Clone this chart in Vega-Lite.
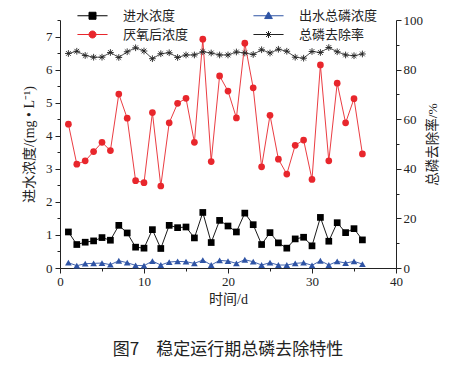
{
  "$schema": "https://vega.github.io/schema/vega-lite/v6.json",
  "width": 336,
  "height": 248,
  "autosize": {"type": "none"},
  "padding": {"left": 60, "top": 20, "right": 58, "bottom": 103},
  "background": "white",
  "title": {"text": "图7　稳定运行期总磷去除特性", "orient": "bottom", "offset": 36, "fontSize": 17, "font": "Noto Sans CJK SC", "fontWeight": "normal", "color": "#222222", "anchor": "middle"},
  "config": {
    "view": {"stroke": null},
    "axis": {"domainColor": "#222222", "tickColor": "#222222", "labelColor": "#222222", "titleColor": "#222222", "labelFont": "Liberation Serif, serif", "labelFontSize": 13, "titleFont": "Liberation Serif, Noto Sans CJK SC", "titleFontWeight": "normal", "grid": false}
  },
  "data": {"values": [
    {"t":1,"s":"进水浓度","v":1.09},{"t":2,"s":"进水浓度","v":0.71},{"t":3,"s":"进水浓度","v":0.78},{"t":4,"s":"进水浓度","v":0.82},{"t":5,"s":"进水浓度","v":0.92},{"t":6,"s":"进水浓度","v":0.84},{"t":7,"s":"进水浓度","v":1.29},{"t":8,"s":"进水浓度","v":1.06},{"t":9,"s":"进水浓度","v":0.63},{"t":10,"s":"进水浓度","v":0.60},{"t":11,"s":"进水浓度","v":1.16},{"t":12,"s":"进水浓度","v":0.59},{"t":13,"s":"进水浓度","v":1.29},{"t":14,"s":"进水浓度","v":1.22},{"t":15,"s":"进水浓度","v":1.24},{"t":16,"s":"进水浓度","v":0.91},{"t":17,"s":"进水浓度","v":1.68},{"t":18,"s":"进水浓度","v":0.77},{"t":19,"s":"进水浓度","v":1.44},{"t":20,"s":"进水浓度","v":1.27},{"t":21,"s":"进水浓度","v":1.09},{"t":22,"s":"进水浓度","v":1.66},{"t":23,"s":"进水浓度","v":1.31},{"t":24,"s":"进水浓度","v":0.71},{"t":25,"s":"进水浓度","v":1.07},{"t":26,"s":"进水浓度","v":0.76},{"t":27,"s":"进水浓度","v":0.60},{"t":28,"s":"进水浓度","v":0.88},{"t":29,"s":"进水浓度","v":0.93},{"t":30,"s":"进水浓度","v":0.67},{"t":31,"s":"进水浓度","v":1.53},{"t":32,"s":"进水浓度","v":0.81},{"t":33,"s":"进水浓度","v":1.37},{"t":34,"s":"进水浓度","v":1.07},{"t":35,"s":"进水浓度","v":1.19},{"t":36,"s":"进水浓度","v":0.85},
    {"t":1,"s":"厌氧后浓度","v":4.35},{"t":2,"s":"厌氧后浓度","v":3.14},{"t":3,"s":"厌氧后浓度","v":3.24},{"t":4,"s":"厌氧后浓度","v":3.52},{"t":5,"s":"厌氧后浓度","v":3.80},{"t":6,"s":"厌氧后浓度","v":3.55},{"t":7,"s":"厌氧后浓度","v":5.26},{"t":8,"s":"厌氧后浓度","v":4.53},{"t":9,"s":"厌氧后浓度","v":2.64},{"t":10,"s":"厌氧后浓度","v":2.58},{"t":11,"s":"厌氧后浓度","v":4.70},{"t":12,"s":"厌氧后浓度","v":2.48},{"t":13,"s":"厌氧后浓度","v":4.39},{"t":14,"s":"厌氧后浓度","v":4.98},{"t":15,"s":"厌氧后浓度","v":5.13},{"t":16,"s":"厌氧后浓度","v":3.80},{"t":17,"s":"厌氧后浓度","v":6.92},{"t":18,"s":"厌氧后浓度","v":3.22},{"t":19,"s":"厌氧后浓度","v":5.81},{"t":20,"s":"厌氧后浓度","v":5.35},{"t":21,"s":"厌氧后浓度","v":4.54},{"t":22,"s":"厌氧后浓度","v":6.80},{"t":23,"s":"厌氧后浓度","v":5.45},{"t":24,"s":"厌氧后浓度","v":3.06},{"t":25,"s":"厌氧后浓度","v":4.62},{"t":26,"s":"厌氧后浓度","v":3.29},{"t":27,"s":"厌氧后浓度","v":2.84},{"t":28,"s":"厌氧后浓度","v":3.71},{"t":29,"s":"厌氧后浓度","v":3.87},{"t":30,"s":"厌氧后浓度","v":2.68},{"t":31,"s":"厌氧后浓度","v":6.14},{"t":32,"s":"厌氧后浓度","v":3.24},{"t":33,"s":"厌氧后浓度","v":5.59},{"t":34,"s":"厌氧后浓度","v":4.39},{"t":35,"s":"厌氧后浓度","v":5.12},{"t":36,"s":"厌氧后浓度","v":3.45},
    {"t":1,"s":"出水总磷浓度","v":0.16},{"t":2,"s":"出水总磷浓度","v":0.07},{"t":3,"s":"出水总磷浓度","v":0.13},{"t":4,"s":"出水总磷浓度","v":0.14},{"t":5,"s":"出水总磷浓度","v":0.15},{"t":6,"s":"出水总磷浓度","v":0.10},{"t":7,"s":"出水总磷浓度","v":0.22},{"t":8,"s":"出水总磷浓度","v":0.16},{"t":9,"s":"出水总磷浓度","v":0.08},{"t":10,"s":"出水总磷浓度","v":0.07},{"t":11,"s":"出水总磷浓度","v":0.21},{"t":12,"s":"出水总磷浓度","v":0.09},{"t":13,"s":"出水总磷浓度","v":0.18},{"t":14,"s":"出水总磷浓度","v":0.20},{"t":15,"s":"出水总磷浓度","v":0.19},{"t":16,"s":"出水总磷浓度","v":0.14},{"t":17,"s":"出水总磷浓度","v":0.24},{"t":18,"s":"出水总磷浓度","v":0.09},{"t":19,"s":"出水总磷浓度","v":0.23},{"t":20,"s":"出水总磷浓度","v":0.21},{"t":21,"s":"出水总磷浓度","v":0.14},{"t":22,"s":"出水总磷浓度","v":0.25},{"t":23,"s":"出水总磷浓度","v":0.19},{"t":24,"s":"出水总磷浓度","v":0.09},{"t":25,"s":"出水总磷浓度","v":0.16},{"t":26,"s":"出水总磷浓度","v":0.09},{"t":27,"s":"出水总磷浓度","v":0.09},{"t":28,"s":"出水总磷浓度","v":0.14},{"t":29,"s":"出水总磷浓度","v":0.16},{"t":30,"s":"出水总磷浓度","v":0.08},{"t":31,"s":"出水总磷浓度","v":0.22},{"t":32,"s":"出水总磷浓度","v":0.09},{"t":33,"s":"出水总磷浓度","v":0.20},{"t":34,"s":"出水总磷浓度","v":0.15},{"t":35,"s":"出水总磷浓度","v":0.20},{"t":36,"s":"出水总磷浓度","v":0.12},
    {"t":1,"s":"总磷去除率","v":86.5},{"t":2,"s":"总磷去除率","v":87.4},{"t":3,"s":"总磷去除率","v":85.7},{"t":4,"s":"总磷去除率","v":85.0},{"t":5,"s":"总磷去除率","v":85.0},{"t":6,"s":"总磷去除率","v":86.9},{"t":7,"s":"总磷去除率","v":84.9},{"t":8,"s":"总磷去除率","v":87.2},{"t":9,"s":"总磷去除率","v":88.8},{"t":10,"s":"总磷去除率","v":87.5},{"t":11,"s":"总磷去除率","v":84.4},{"t":12,"s":"总磷去除率","v":86.4},{"t":13,"s":"总磷去除率","v":86.8},{"t":14,"s":"总磷去除率","v":84.9},{"t":15,"s":"总磷去除率","v":85.9},{"t":16,"s":"总磷去除率","v":85.9},{"t":17,"s":"总磷去除率","v":87.2},{"t":18,"s":"总磷去除率","v":86.7},{"t":19,"s":"总磷去除率","v":85.9},{"t":20,"s":"总磷去除率","v":85.9},{"t":21,"s":"总磷去除率","v":87.1},{"t":22,"s":"总磷去除率","v":86.7},{"t":23,"s":"总磷去除率","v":86.1},{"t":24,"s":"总磷去除率","v":88.0},{"t":25,"s":"总磷去除率","v":86.7},{"t":26,"s":"总磷去除率","v":88.2},{"t":27,"s":"总磷去除率","v":87.4},{"t":28,"s":"总磷去除率","v":85.0},{"t":29,"s":"总磷去除率","v":84.6},{"t":30,"s":"总磷去除率","v":87.3},{"t":31,"s":"总磷去除率","v":86.9},{"t":32,"s":"总磷去除率","v":88.9},{"t":33,"s":"总磷去除率","v":87.2},{"t":34,"s":"总磷去除率","v":85.9},{"t":35,"s":"总磷去除率","v":85.6},{"t":36,"s":"总磷去除率","v":86.3}
  ]},
  "encoding": {
    "x": {"field": "t", "type": "quantitative", "scale": {"domain": [0, 40], "nice": false, "zero": false},
      "axis": {"title": "时间/d", "titleFontSize": 14, "titlePadding": 4, "values": [0,5,10,15,20,25,30,35,40], "labelExpr": "datum.value % 10 === 0 ? format(datum.value, 'd') : ''", "tickSize": {"condition": {"test": "datum.value % 10 === 0", "value": 5}, "value": 3}, "labelPadding": 2, "labelFlush": false}},
    "color": {"field": "s", "type": "nominal", "scale": {"domain": ["进水浓度","出水总磷浓度","厌氧后浓度","总磷去除率"], "range": ["#000000","#2f54a5","#e8262c","#222222"]},
      "legend": {"title": null, "orient": "none", "legendX": 26, "legendY": -11, "direction": "horizontal", "columns": 2, "columnPadding": 62, "rowPadding": 5, "symbolSize": 49, "symbolStrokeWidth": 1, "labelFontSize": 13, "labelFont": "Liberation Serif, Noto Sans CJK SC", "labelColor": "#222222", "labelOffset": 24, "symbolOffset": 0, "padding": 0,
        "encode": {"symbols": {"update": {
          "shape": {"signal": "datum.value === '进水浓度' ? 'M-4.3,0L4.3,0M-1,-1L1,-1L1,1L-1,1Z' : datum.value === '厌氧后浓度' ? 'M-4.3,0L4.3,0M1,0A1,1,0,1,1,-1,0A1,1,0,1,1,1,0Z' : datum.value === '出水总磷浓度' ? 'M-4.3,0L4.3,0M0,-1.1L1.1,0.8L-1.1,0.8Z' : 'M-4.3,0L4.3,0M-1,0L1,0M0,-1L0,1M-0.7,-0.7L0.7,0.7M-0.7,0.7L0.7,-0.7'"},
          "strokeWidth": {"value": 1}
        }}}}}
  },
  "layer": [
    {
      "transform": [{"filter": "datum.s !== '总磷去除率'"}],
      "encoding": {
        "y": {"field": "v", "type": "quantitative", "scale": {"domain": [0, 7.5], "nice": false},
          "axis": {"orient": "left", "title": "进水浓度/(mg • L⁻¹)", "titleFontSize": 14, "titlePadding": 9, "values": [0,0.5,1,1.5,2,2.5,3,3.5,4,4.5,5,5.5,6,6.5,7,7.5], "labelExpr": "datum.value % 1 === 0 ? format(datum.value, 'd') : ''", "tickSize": {"condition": {"test": "datum.value % 1 === 0", "value": 5}, "value": 3}, "labelPadding": 3}}
      },
      "layer": [
        {"mark": {"type": "line", "strokeWidth": 0.9}},
        {"transform": [{"filter": "datum.s === '进水浓度'"}], "mark": {"type": "point", "shape": "square", "filled": true, "opacity": 1, "size": 45}},
        {"transform": [{"filter": "datum.s === '厌氧后浓度'"}], "mark": {"type": "point", "shape": "circle", "filled": true, "opacity": 1, "size": 45}},
        {"transform": [{"filter": "datum.s === '出水总磷浓度'"}], "mark": {"type": "point", "shape": "triangle-up", "filled": true, "opacity": 1, "size": 45}}
      ]
    },
    {
      "transform": [{"filter": "datum.s === '总磷去除率'"}],
      "encoding": {
        "y": {"field": "v", "type": "quantitative", "scale": {"domain": [0, 100], "nice": false},
          "axis": {"orient": "right", "title": "总磷去除率/%", "titleFontSize": 13.5, "titleAngle": -90, "titleBaseline": "top", "titlePadding": 3, "values": [0,10,20,30,40,50,60,70,80,90,100], "labelExpr": "datum.value % 20 === 0 ? format(datum.value, 'd') : ''", "tickSize": {"condition": {"test": "datum.value % 20 === 0", "value": 5}, "value": 3}, "labelPadding": 2}}
      },
      "layer": [
        {"mark": {"type": "line", "strokeWidth": 0.8}},
        {"mark": {"type": "point", "shape": "M-1,0L1,0M0,-1L0,1M-0.7,-0.7L0.7,0.7M-0.7,0.7L0.7,-0.7", "filled": false, "opacity": 1, "size": 45, "strokeWidth": 0.9}}
      ]
    }
  ],
  "resolve": {"scale": {"y": "independent"}}
}
